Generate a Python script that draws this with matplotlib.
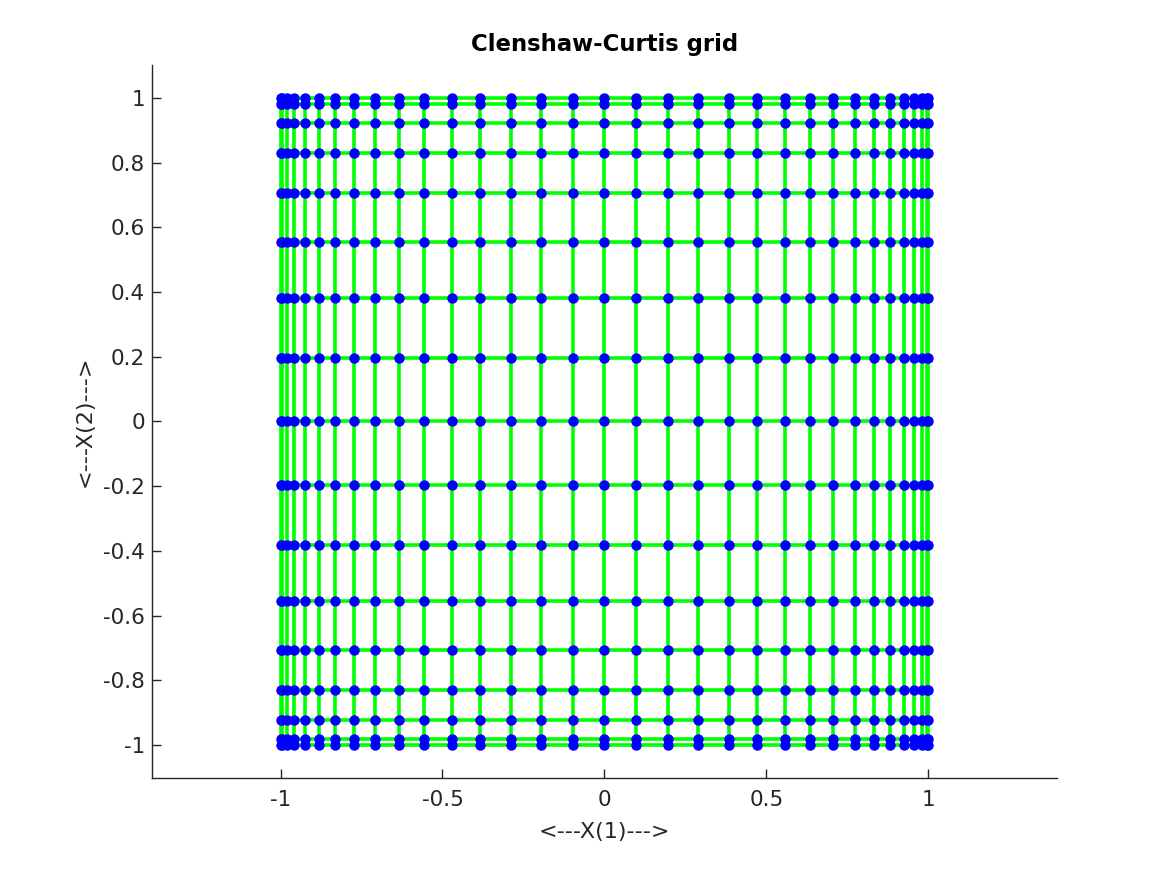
import matplotlib
matplotlib.use("Agg")
import matplotlib.pyplot as plt

plt.rcParams['font.family'] = ['DejaVu Sans']
plt.rcParams['axes.unicode_minus'] = False

# Clenshaw-Curtis nodes
x_nodes = [-1.0, -0.995, -0.981, -0.957, -0.924, -0.882, -0.831, -0.773, -0.707,
           -0.634, -0.556, -0.471, -0.383, -0.290, -0.195, -0.098, 0.0,
           0.098, 0.195, 0.290, 0.383, 0.471, 0.556, 0.634, 0.707,
           0.773, 0.831, 0.882, 0.924, 0.957, 0.981, 0.995, 1.0]
y_nodes = [-1.0, -0.981, -0.924, -0.831, -0.707, -0.556, -0.383, -0.195, 0.0,
           0.195, 0.383, 0.556, 0.707, 0.831, 0.924, 0.981, 1.0]

x_ticks = [-1, -0.5, 0, 0.5, 1]
x_ticklabels = ['-1', '-0.5', '0', '0.5', '1']
y_ticks = [-1, -0.8, -0.6, -0.4, -0.2, 0, 0.2, 0.4, 0.6, 0.8, 1]
y_ticklabels = ['-1', '-0.8', '-0.6', '-0.4', '-0.2', '0', '0.2', '0.4', '0.6', '0.8', '1']

fig = plt.figure(figsize=(11.67, 8.75), dpi=100)
ax = fig.add_axes([0.1302, 0.1109, 0.7755, 0.8149])

green = '#00ff00'
xmin, xmax = x_nodes[0], x_nodes[-1]
ymin, ymax = y_nodes[0], y_nodes[-1]
for xv in x_nodes:
    ax.plot([xv, xv], [ymin, ymax], color=green, lw=2.6, solid_capstyle='butt', zorder=2)
for yv in y_nodes:
    ax.plot([xmin, xmax], [yv, yv], color=green, lw=2.6, solid_capstyle='butt', zorder=2)

px = [xv for yv in y_nodes for xv in x_nodes]
py = [yv for yv in y_nodes for xv in x_nodes]
ax.plot(px, py, linestyle='none', marker='o', markersize=6.5, color='#0000ff',
        markeredgecolor='#0000ff', zorder=3)

ax.set_xlim(-1.397, 1.397)
ax.set_ylim(-1.102, 1.102)
ax.set_xticks(x_ticks)
ax.set_xticklabels(x_ticklabels)
ax.set_yticks(y_ticks)
ax.set_yticklabels(y_ticklabels)

dark = '#262626'
for s in ['top', 'right']:
    ax.spines[s].set_visible(False)
for s in ['left', 'bottom']:
    ax.spines[s].set_color(dark)
    ax.spines[s].set_linewidth(1.0)
ax.tick_params(direction='in', length=6.5, width=1.0, colors=dark, labelsize=15.5)
ax.tick_params(axis='x', pad=9)
ax.tick_params(axis='y', pad=5)

ax.set_title('Clenshaw-Curtis grid', fontsize=16.4, fontweight='bold', color='black', pad=10)
ax.set_xlabel('<---X(1)--->', fontsize=16, color=dark, labelpad=8)
ax.set_ylabel('<---X(2)--->', fontsize=16, color=dark, labelpad=6)

fig.savefig('out.png', dpi=100)
